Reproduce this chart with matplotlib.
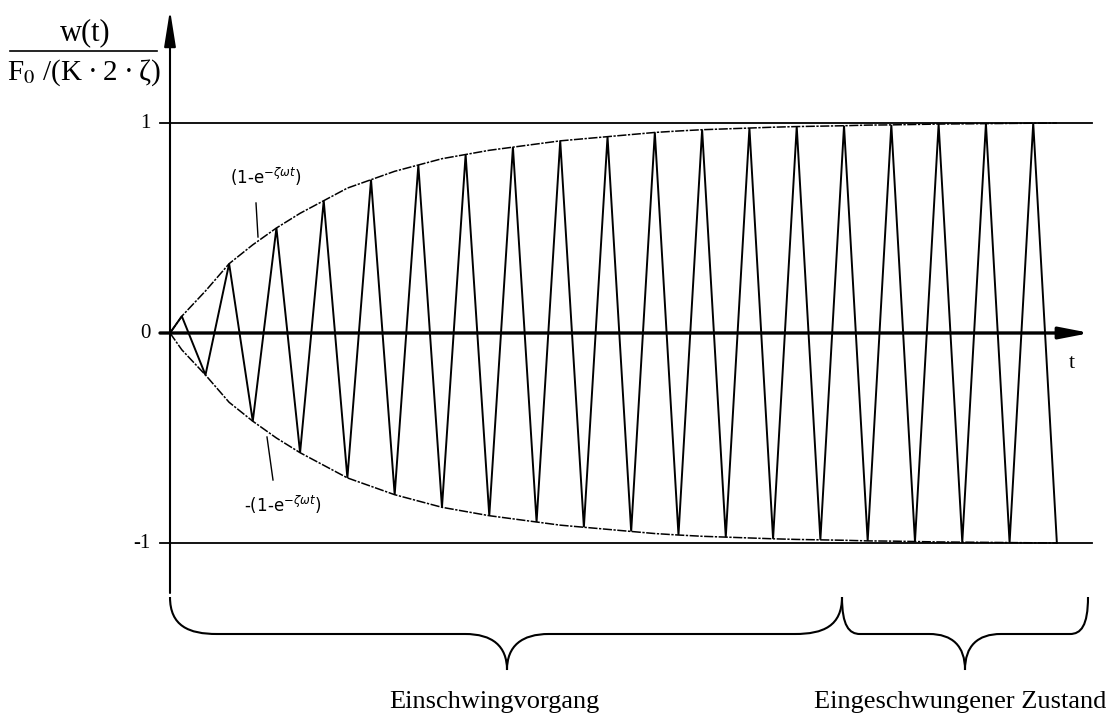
import matplotlib
matplotlib.use("Agg")
import matplotlib.pyplot as plt
from matplotlib.path import Path
from matplotlib.patches import PathPatch

peak_t = [0.5, 1.5, 2.5, 3.5, 4.5, 5.5, 6.5, 7.5, 8.5, 9.5,
          10.5, 11.5, 12.5, 13.5, 14.5, 15.5, 16.5, 17.5, 18.5, 19.5,
          20.5, 21.5, 22.5, 23.5, 24.5, 25.5, 26.5, 27.5, 28.5, 29.5,
          30.5, 31.5, 32.5, 33.5, 34.5, 35.5, 36.5, 37.5]
peak_w = [0.08, -0.20, 0.33, -0.42, 0.50, -0.57, 0.63, -0.69, 0.73, -0.77,
          0.80, -0.83, 0.85, -0.87, 0.885, -0.90, 0.915, -0.925, 0.935, -0.945,
          0.955, -0.962, 0.968, -0.972, 0.976, -0.980, 0.983, -0.985, 0.987, -0.990,
          0.991, -0.993, 0.995, -0.996, 0.997, -0.998, 0.999, -1.0]
ytick_vals = [1, 0, -1]
ytick_labels = ["1", "0", "-1"]
phase_names = ["Einschwingvorgang", "Eingeschwungener Zustand"]

# Umrechnung Bildpixel -> Daten (nur fuer Beschriftungen / Dekoration)
X0, Y0 = 170, 333
SX, SY = 23.65, 210.0
W, H = 1109, 716


def d(x, y):
    return (x - X0) / SX, (Y0 - y) / SY


fig = plt.figure(figsize=(W / 100, H / 100), dpi=100)
ax = fig.add_axes([0, 0, 1, 1])
ax.set_xlim(-X0 / SX, (W - X0) / SX)
ax.set_ylim((Y0 - H) / SY, Y0 / SY)
ax.axis("off")

# Schwingung (Zickzack) und Einhuellende
zz_t = [0] + peak_t
zz_w = [0] + peak_w
env = [0] + [abs(v) for v in peak_w]
ax.plot(zz_t, zz_w, color="black", lw=1.4, solid_joinstyle="miter")
env_style = (0, (6, 1, 1.5, 1))
ax.plot(zz_t, env, color="black", lw=1.1, linestyle=env_style)
ax.plot(zz_t, [-v for v in env], color="black", lw=1.1, linestyle=env_style)

# Linien bei +1 / -1
xa, _ = d(160, 0)
xb, _ = d(1092, 0)
for v in (1, -1):
    ax.plot([xa, xb], [v, v], color="black", lw=1.3)

# Achsen mit Pfeilen
x_tip, _ = d(1090, 0)
ax.annotate("", xy=(x_tip, 0), xytext=(xa, 0),
            arrowprops=dict(arrowstyle="-|>,head_length=1.8,head_width=0.35",
                            lw=2.4, color="black", shrinkA=0, shrinkB=0))
_, y_top = d(0, 10)
_, y_bot = d(0, 593)
ax.annotate("", xy=(0, y_top), xytext=(0, y_bot),
            arrowprops=dict(arrowstyle="-|>,head_length=2.2,head_width=0.35",
                            lw=1.5, color="black", shrinkA=0, shrinkB=0))

# Tick-Beschriftung
xl, _ = d(151, 0)
for v, lab in zip(ytick_vals, ytick_labels):
    ax.text(xl, v, lab, ha="right", va="center", fontsize=15,
            fontfamily="Liberation Serif")
ax.text(*d(1072, 363), "t", ha="center", va="center", fontsize=16,
        fontfamily="Liberation Serif")

# y-Beschriftung als Bruch
ax.text(*d(85, 33), "w(t)", ha="center", va="center", fontsize=22,
        fontfamily="Liberation Serif")
bx1, by = d(10, 51)
bx2, _ = d(157, 51)
ax.plot([bx1, bx2], [by, by], color="black", lw=1.2)
ax.text(*d(84, 73), "F$_0$ /(K\u2009·\u20092\u2009·\u2009ζ)", ha="center", va="center",
        fontsize=21, fontfamily="Liberation Serif", math_fontfamily="stix")

# Beschriftung der Einhuellenden
ax.text(*d(266, 177), r"(1-e$^{-\zeta\omega t}$)", ha="center", va="center",
        fontsize=12, fontfamily="DejaVu Sans", math_fontfamily="dejavusans")
ax.plot(*zip(d(256, 203), d(258, 237)), color="black", lw=1.0)
ax.text(*d(283, 505), r"-(1-e$^{-\zeta\omega t}$)", ha="center", va="center",
        fontsize=12, fontfamily="DejaVu Sans", math_fontfamily="dejavusans")
ax.plot(*zip(d(267, 437), d(273, 480)), color="black", lw=1.0)


# geschweifte Klammern
def brace(x_l, x_tip, x_r, end_w, tip_w, y_top=597, y_mid=634, y_tip=670):
    pts = [(x_l, y_top), (x_l, y_mid - 8), (x_l + end_w * 0.4, y_mid), (x_l + end_w, y_mid),
           (x_tip - tip_w, y_mid),
           (x_tip - tip_w * 0.35, y_mid), (x_tip, y_mid + 12), (x_tip, y_tip),
           (x_tip, y_mid + 12), (x_tip + tip_w * 0.35, y_mid), (x_tip + tip_w, y_mid),
           (x_r - end_w, y_mid),
           (x_r - end_w * 0.4, y_mid), (x_r, y_mid - 8), (x_r, y_top)]
    codes = [Path.MOVETO, Path.CURVE4, Path.CURVE4, Path.CURVE4,
             Path.LINETO,
             Path.CURVE4, Path.CURVE4, Path.CURVE4,
             Path.CURVE4, Path.CURVE4, Path.CURVE4,
             Path.LINETO,
             Path.CURVE4, Path.CURVE4, Path.CURVE4]
    verts = [d(x, y) for x, y in pts]
    ax.add_patch(PathPatch(Path(verts, codes), fill=False, lw=1.5, color="black"))


brace(170, 507, 842, 47, 42)
brace(842, 965, 1088, 18, 36)

ax.text(*d(494, 708), phase_names[0], ha="center", va="baseline", fontsize=19,
        fontfamily="Liberation Serif")
ax.text(*d(960, 708), phase_names[1], ha="center", va="baseline", fontsize=19,
        fontfamily="Liberation Serif")

fig.savefig("out.png", dpi=100)
